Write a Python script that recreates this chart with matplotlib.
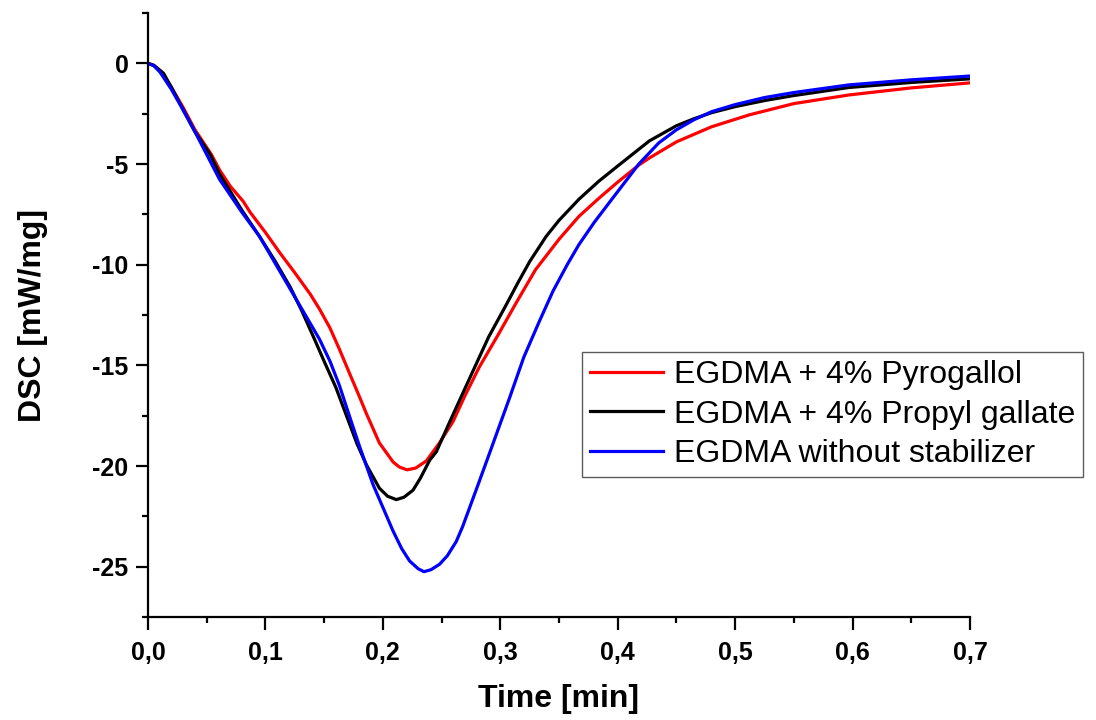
import matplotlib
matplotlib.use("Agg")
import matplotlib.pyplot as plt
from matplotlib.ticker import MultipleLocator, FuncFormatter

plt.rcParams['font.family'] = ['Liberation Sans', 'DejaVu Sans']

# --- data ---
x_pyro = [0, 0.005, 0.011, 0.02, 0.03, 0.04, 0.054, 0.061, 0.07, 0.081, 0.087, 0.1,
          0.112, 0.125, 0.138, 0.146, 0.155, 0.163, 0.172, 0.180, 0.186, 0.197,
          0.2087, 0.214, 0.2206, 0.228, 0.237, 0.248, 0.2597, 0.27, 0.282, 0.298,
          0.3135, 0.330, 0.350, 0.367, 0.384, 0.40, 0.418, 0.427, 0.45, 0.48, 0.512,
          0.55, 0.597, 0.65, 0.70]
y_pyro = [0, -0.1, -0.4, -1.2, -2.2, -3.3, -4.53, -5.3, -6.1, -6.85, -7.4, -8.4,
          -9.39, -10.4, -11.45, -12.2, -13.15, -14.2, -15.45, -16.55, -17.4, -18.85,
          -19.8, -20.05, -20.19, -20.1, -19.75, -18.87, -17.8, -16.5, -15.1, -13.5,
          -11.9, -10.25, -8.74, -7.6, -6.7, -5.9, -5.05, -4.7, -3.9, -3.15, -2.56,
          -2.0, -1.57, -1.22, -0.97]

x_propyl = [0, 0.005, 0.0133, 0.02, 0.03, 0.04, 0.053, 0.061, 0.08, 0.095, 0.108,
            0.121, 0.131, 0.141, 0.150, 0.160, 0.169, 0.178, 0.186, 0.197, 0.204,
            0.2115, 0.218, 0.2257, 0.232, 0.240, 0.2455, 0.257, 0.2766, 0.290, 0.305,
            0.315, 0.325, 0.339, 0.350, 0.367, 0.384, 0.40, 0.427, 0.45, 0.465,
            0.48, 0.50, 0.525, 0.55, 0.597, 0.65, 0.70]
y_propyl = [0, -0.1, -0.5, -1.2, -2.3, -3.4, -4.53, -5.5, -7.3, -8.6, -9.8,
            -11.1, -12.3, -13.6, -14.8, -16.1, -17.5, -18.9, -19.94, -21.1, -21.5,
            -21.67, -21.55, -21.2, -20.6, -19.7, -19.3, -17.8, -15.3, -13.6, -12.0,
            -10.9, -9.85, -8.6, -7.8, -6.75, -5.85, -5.1, -3.85, -3.1, -2.75,
            -2.45, -2.15, -1.85, -1.6, -1.2, -0.95, -0.77]

x_none = [0, 0.005, 0.0104, 0.02, 0.0274, 0.04, 0.050, 0.061, 0.08, 0.095, 0.108,
          0.121, 0.133, 0.146, 0.155, 0.163, 0.172, 0.180, 0.1917, 0.2087, 0.216,
          0.2228, 0.230, 0.235, 0.241, 0.2483, 0.255, 0.2625, 0.268, 0.274, 0.280,
          0.290, 0.308, 0.320, 0.333, 0.345, 0.357, 0.367, 0.380, 0.395, 0.418,
          0.435, 0.45, 0.465, 0.48, 0.50, 0.525, 0.55, 0.597, 0.65, 0.70]
y_none = [0, -0.12, -0.45, -1.3, -2.06, -3.4, -4.53, -5.77, -7.4, -8.6, -9.9,
          -11.2, -12.4, -13.7, -14.8, -16.0, -17.6, -19.0, -20.93, -23.23, -24.1,
          -24.72, -25.1, -25.25, -25.15, -24.88, -24.45, -23.75, -23.0, -22.05, -21.1,
          -19.5, -16.6, -14.6, -12.85, -11.3, -10.0, -9.0, -7.9, -6.75, -5.0,
          -3.95, -3.3, -2.8, -2.4, -2.05, -1.7, -1.45, -1.07, -0.82, -0.63]

labels = ["EGDMA + 4% Pyrogallol", "EGDMA + 4% Propyl gallate", "EGDMA without stabilizer"]
colors = ["#ff0000", "#000000", "#0000ff"]

fig = plt.figure(figsize=(10.96, 7.20), dpi=100)
ax = fig.add_axes([148/1096, 1-617/720, (970-148)/1096, (617-13)/720])

for xs, ys, lab, c in zip([x_pyro, x_propyl, x_none], [y_pyro, y_propyl, y_none], labels, colors):
    ax.plot(xs, ys, color=c, lw=2.3, label=lab, solid_joinstyle='round')

ax.set_xlim(0, 0.7)
ax.set_ylim(-27.5, 2.5)
for s in ['top', 'right']:
    ax.spines[s].set_visible(False)
for s in ['left', 'bottom']:
    ax.spines[s].set_linewidth(1.6)

ax.xaxis.set_major_locator(MultipleLocator(0.1))
ax.xaxis.set_minor_locator(MultipleLocator(0.05))
ax.yaxis.set_major_locator(MultipleLocator(5))
ax.yaxis.set_minor_locator(MultipleLocator(2.5))
ax.xaxis.set_major_formatter(FuncFormatter(lambda v, p: f"{v:.1f}".replace('.', ',')))
ax.yaxis.set_major_formatter(FuncFormatter(lambda v, p: f"{int(round(v))}"))
ax.tick_params(which='major', length=9, width=1.6, labelsize=18, direction='out')
ax.tick_params(which='minor', length=4.5, width=1.6, direction='out')
ax.tick_params(axis='x', which='major', pad=8)
ax.tick_params(axis='y', which='major', pad=5)
for lab in ax.get_xticklabels() + ax.get_yticklabels():
    lab.set_fontweight('bold')

ax.set_xlabel("Time [min]", fontsize=23, fontweight='bold', labelpad=14)
ax.set_ylabel("DSC [mW/mg]", fontsize=23, fontweight='bold', labelpad=32)

leg = ax.legend(loc='upper left', bbox_to_anchor=(582/1096, 1-352/720),
                bbox_transform=fig.transFigure, fontsize=23, frameon=True,
                fancybox=False, edgecolor='#333333', handlelength=2.3,
                handletextpad=0.33, labelspacing=0.3, borderpad=0.25, borderaxespad=0)
leg.get_frame().set_linewidth(1.0)

fig.savefig("out.png", dpi=100)
